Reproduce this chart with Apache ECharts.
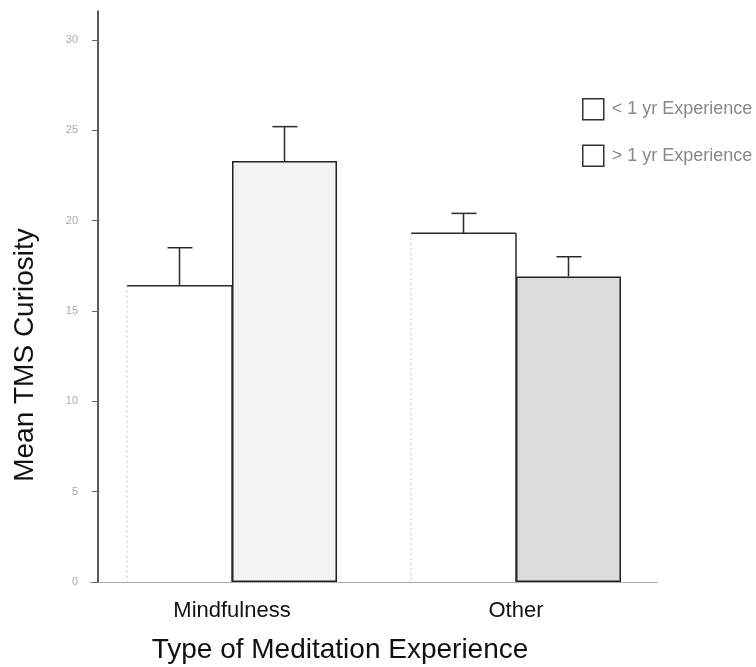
<!DOCTYPE html>
<html>
<head>
<meta charset="utf-8">
<title>Mean TMS Curiosity</title>
<script src="https://cdn.jsdelivr.net/npm/echarts@6/dist/echarts.min.js"></script>
<style>
  html, body { margin: 0; padding: 0; background: #fff; }
  #chart { width: 756px; height: 667px; }
</style>
</head>
<body>
<div id="chart"></div>
<script>
// data
const categories = ['Mindfulness', 'Other']
const seriesNames = ['< 1 yr Experience', '> 1 yr Experience']
const lessMeans = [16.4, 19.3]
const lessErrTop = [18.5, 20.4]
const moreMeans = [23.3, 16.9]
const moreErrTop = [25.2, 18.0]
const yTicks = [0, 5, 10, 15, 20, 25, 30]

const BAR_W = 105
const FONT = '"Liberation Sans", Arial, sans-serif'
const MORE_FILL = ['#f3f3f3', '#dcdcdc']

const chart = echarts.init(document.getElementById('chart'), null, { renderer: 'canvas' })

// one row per bar: [category, mean, error top, side]
const errData = []
categories.forEach((c, i) => {
  errData.push([i, lessMeans[i], lessErrTop[i], -1])
  errData.push([i, moreMeans[i], moreErrTop[i], 1])
})

function renderErr(params, api) {
  const cat = api.value(0)
  const side = api.value(3)
  const base = api.coord([cat, 0])
  const top = api.coord([cat, api.value(1)])
  const err = api.coord([cat, api.value(2)])
  const cx = base[0] + side * BAR_W / 2
  const line = { stroke: '#2a2a2a', lineWidth: 1.5 }
  const children = [
    { type: 'line', shape: { x1: cx, y1: top[1], x2: cx, y2: err[1] }, style: line },
    { type: 'line', shape: { x1: cx - 12, y1: err[1], x2: cx + 13, y2: err[1] }, style: line },
  ]
  if (side < 0) {
    // open bar: dark top and right edge, faint dotted left edge
    const x0 = base[0] - BAR_W
    const x1 = base[0]
    children.push(
      { type: 'line', shape: { x1: x0, y1: top[1], x2: x1, y2: top[1] }, style: line },
      { type: 'line', shape: { x1: x1, y1: top[1], x2: x1, y2: base[1] }, style: line },
      { type: 'line', shape: { x1: x0, y1: top[1], x2: x0, y2: base[1] },
        style: { stroke: '#c4c4c4', lineWidth: 1, lineDash: [2, 3] } }
    )
  }
  return { type: 'group', children }
}

chart.setOption({
  animation: false,
  backgroundColor: '#fff',
  grid: { left: 90, right: 98, top: 11, bottom: 85 },
  legend: {
    orient: 'vertical',
    left: 577,
    top: 93,
    itemWidth: 21,
    itemHeight: 21,
    itemGap: 24,
    icon: 'rect',
    textStyle: { fontFamily: FONT, fontSize: 18, color: '#888', padding: [0, 0, 0, 3] },
    data: seriesNames.map((n) => ({
      name: n,
      itemStyle: { color: '#fff', borderColor: '#333', borderWidth: 1.5 },
    })),
  },
  xAxis: {
    type: 'category',
    data: categories,
    axisTick: { show: false },
    axisLine: { lineStyle: { color: '#999', type: 'dotted', width: 1 } },
    axisLabel: { fontFamily: FONT, fontSize: 22, color: '#111', margin: 18 },
  },
  yAxis: {
    type: 'value',
    min: 0,
    max: 31.6,
    interval: 5,
    offset: -8,
    splitLine: { show: false },
    axisLine: { show: true, lineStyle: { color: '#222', width: 1.5 } },
    axisTick: { show: true, length: 6, lineStyle: { color: '#666' }, customValues: yTicks },
    axisLabel: { fontFamily: FONT, fontSize: 11, color: '#aaa', margin: 20, customValues: yTicks },
  },
  graphic: [
    {
      type: 'text',
      x: 25,
      y: 355,
      rotation: Math.PI / 2,
      style: {
        text: 'Mean TMS Curiosity',
        font: '28px ' + FONT,
        fill: '#111',
        textAlign: 'center',
        textVerticalAlign: 'middle',
      },
    },
    {
      type: 'text',
      x: 340,
      y: 650,
      style: {
        text: 'Type of Meditation Experience',
        font: '28px ' + FONT,
        fill: '#111',
        textAlign: 'center',
        textVerticalAlign: 'middle',
      },
    },
  ],
  series: [
    {
      name: seriesNames[0],
      type: 'bar',
      barWidth: BAR_W,
      barGap: 0,
      data: lessMeans,
      itemStyle: { color: '#fff', borderWidth: 0 },
    },
    {
      name: seriesNames[1],
      type: 'bar',
      barWidth: BAR_W,
      barGap: 0,
      data: moreMeans,
      itemStyle: {
        color: (p) => MORE_FILL[p.dataIndex],
        borderColor: '#222',
        borderWidth: 1.5,
      },
    },
    {
      type: 'custom',
      renderItem: renderErr,
      encode: { x: 0, y: [1, 2] },
      data: errData,
      z: 5,
      silent: true,
    },
  ],
})
</script>
</body>
</html>
